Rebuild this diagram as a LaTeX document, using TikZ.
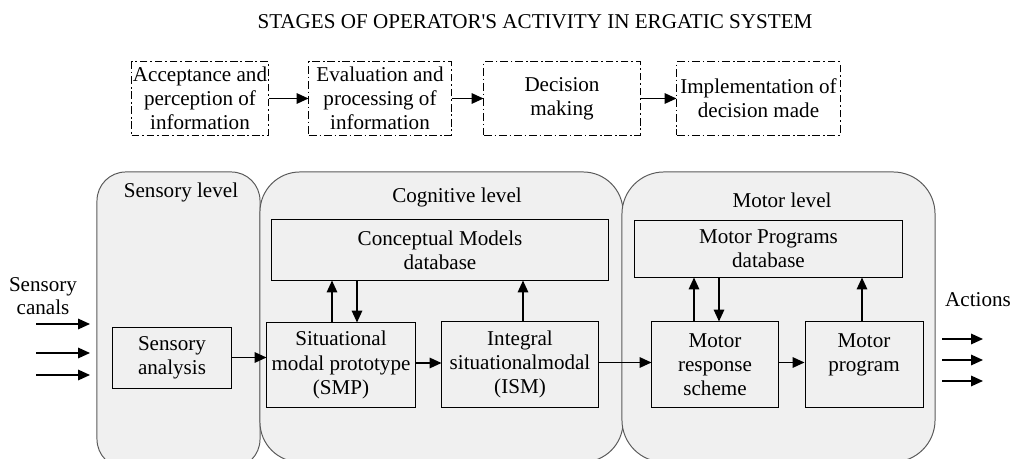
\documentclass[tikz,border=0pt]{standalone}
\usepackage{fontspec}
\setmainfont{Liberation Serif}
\usepackage{tikz}
\usetikzlibrary{arrows.meta}

\definecolor{panelgray}{HTML}{F0F0F0}
\definecolor{paneledge}{HTML}{5A5A5A}

\begin{document}
\begin{tikzpicture}[x=0.025cm, y=-0.025cm,
  panel/.style={draw=paneledge, fill=panelgray, line width=0.7pt, inner sep=0pt},
  box/.style={draw, line width=0.7pt, align=center, inner sep=1pt,
              font=\fontsize{15}{17.2}\selectfont},
  stage/.style={box, dash pattern=on 5.5pt off 2pt on 1.2pt off 2pt},
  lbl/.style={align=center, font=\fontsize{15}{16.5}\selectfont},
  arrow/.style={-{Triangle[length=8.5pt,width=7.5pt]}, line width=1.1pt}
]
\clip (0,0) rectangle (1013,459);

\node[lbl, font=\fontsize{15}{16}\selectfont] (title) at (535,22)
  {STAGES OF OPERATOR\textquotesingle S ACTIVITY IN ERGATIC SYSTEM};

\node[stage, minimum width=3.35cm, minimum height=1.825cm] (acc) at (200,98.5)
  {Acceptance and\\perception of\\information};
\node[stage, minimum width=3.55cm, minimum height=1.825cm] (eval) at (380,98.5)
  {Evaluation and\\processing of\\information};
\node[stage, minimum width=3.9cm, minimum height=1.825cm] (dec) at (562,98.5)
  {Decision\\making};
\node[stage, minimum width=4.075cm, minimum height=1.825cm] (impl) at (758.5,98.5)
  {Implementation of\\decision made};
\draw[arrow] (acc) -- (eval);
\draw[arrow] (eval) -- (dec);
\draw[arrow] (dec) -- (impl);

\node[panel, rounded corners=0.72cm, minimum width=4.075cm, minimum height=7.4cm] (sens) at (178.5,320) {};
\node[panel, rounded corners=1cm, minimum width=9.075cm, minimum height=7.25cm] (cog) at (441.5,317) {};
\node[panel, rounded corners=1.05cm, minimum width=7.825cm, minimum height=7.25cm] (mot) at (778.5,317) {};
\node[lbl] (senslbl) at (181,192) {Sensory level};
\node[lbl] (coglbl) at (457,197) {Cognitive level};
\node[lbl] (motlbl) at (782,200) {Motor level};

\node[box, minimum width=2.95cm, minimum height=1.525cm] (sa) at (172,357.5) {Sensory\\analysis};
\node[box, minimum width=8.4cm, minimum height=1.5cm] (cmdb) at (440,250) {Conceptual Models\\database};
\node[box, minimum width=3.7cm, minimum height=2.1cm] (smp) at (341,365) {Situational\\modal prototype\\(SMP)};
\node[box, minimum width=3.9cm, minimum height=2.125cm] (ism) at (520,364.5) {Integral\\situationalmodal\\(ISM)};
\node[box, minimum width=6.675cm, minimum height=1.425cm] (mpdb) at (768.5,248.5) {Motor Programs\\database};
\node[box, minimum width=3.15cm, minimum height=2.125cm] (mrs) at (715,364.5) {Motor\\response\\scheme};
\node[box, minimum width=2.95cm, minimum height=2.125cm] (mp) at (864,364.5) {Motor\\program\\\mbox{}};

\node[lbl] (canals) at (43,296) {Sensory\\canals};
\node[lbl] (actions) at (978,300) {Actions};
\foreach \y [count=\i] in {324,353,375} {
  \coordinate (in\i) at (36,\y);
  \draw[arrow] (in\i) -- ++(54,0);
}
\foreach \y [count=\i] in {339,360,381} {
  \coordinate (out\i) at (942,\y);
  \draw[arrow] (out\i) -- ++(41,0);
}

\draw[arrow] (sa.east) -- (sa.east -| smp.west);
\draw[arrow] ([yshift=0.05cm]smp.east) -- ([yshift=0.05cm]smp.east -| ism.west);
\draw[arrow] ([yshift=0.05cm]ism.east) -- ([yshift=0.05cm]ism.east -| mrs.west);
\draw[arrow] ([yshift=0.05cm]mrs.east) -- ([yshift=0.05cm]mrs.east -| mp.west);
\draw[arrow] ([xshift=-0.225cm]smp.north) -- ([xshift=-0.225cm]smp.north |- cmdb.south);
\draw[arrow] ([xshift=0.4cm]smp.north |- cmdb.south) -- ([xshift=0.4cm]smp.north);
\draw[arrow] ([xshift=0.075cm]ism.north) -- ([xshift=0.075cm]ism.north |- cmdb.south);
\draw[arrow] ([xshift=-0.525cm]mrs.north) -- ([xshift=-0.525cm]mrs.north |- mpdb.south);
\draw[arrow] ([xshift=0.1cm]mrs.north |- mpdb.south) -- ([xshift=0.1cm]mrs.north);
\draw[arrow] ([xshift=-0.05cm]mp.north) -- ([xshift=-0.05cm]mp.north |- mpdb.south);
\end{tikzpicture}
\end{document}
